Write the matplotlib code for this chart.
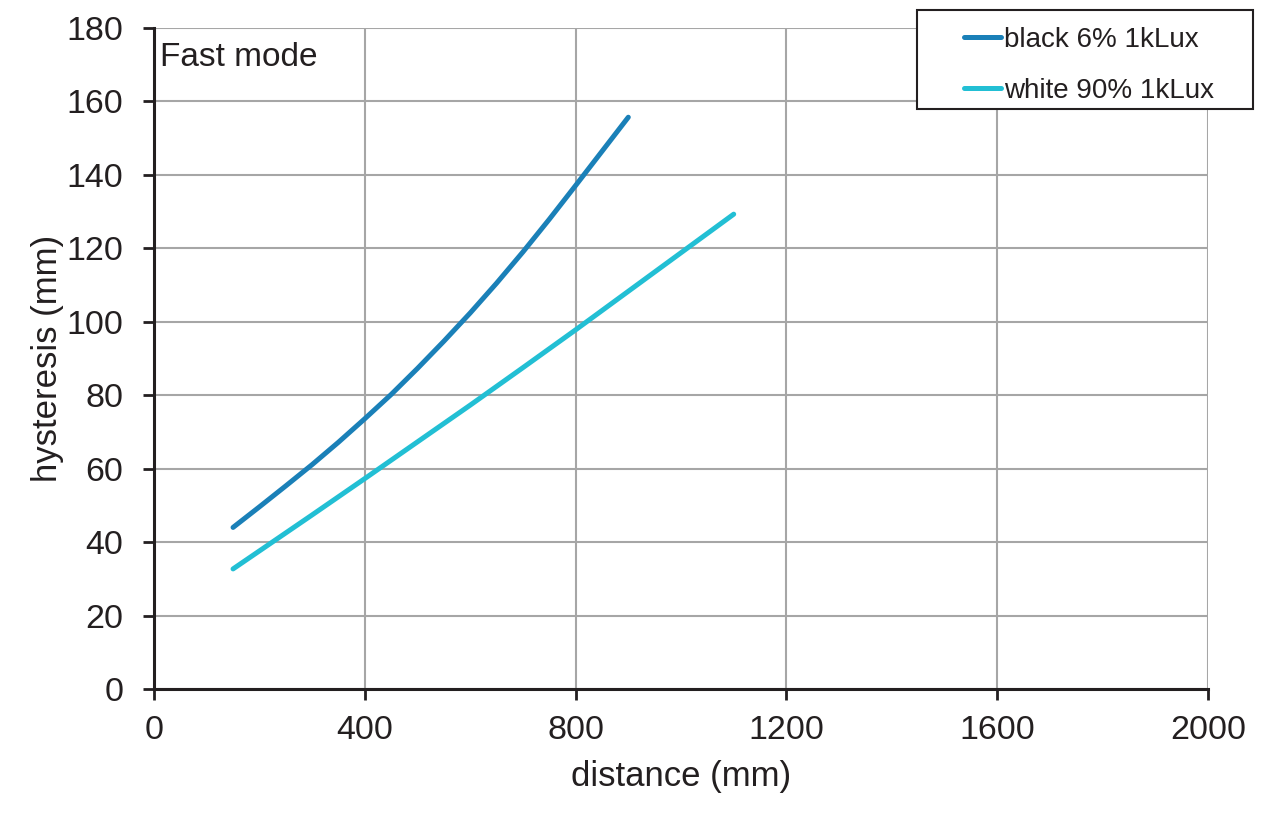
import matplotlib
matplotlib.use("Agg")
import matplotlib.pyplot as plt
from matplotlib.patches import Rectangle

plt.rcParams["font.family"] = ["Liberation Sans", "DejaVu Sans"]

# values
black_x = [150, 200, 250, 300, 350, 400, 450, 500, 550, 600, 650, 700, 750, 800, 850, 900]
black_y = [44.0, 49.6, 55.3, 61.1, 67.2, 73.6, 80.2, 87.3, 94.7, 102.4, 110.5, 119.0,
           127.9, 137.1, 146.4, 155.7]
white_x = [150, 200, 300, 400, 500, 600, 700, 800, 900, 1000, 1100]
white_y = [32.7, 37.6, 47.4, 57.3, 67.3, 77.3, 87.5, 97.8, 108.3, 118.8, 129.3]

x_ticks = [0, 400, 800, 1200, 1600, 2000]
y_ticks = [0, 20, 40, 60, 80, 100, 120, 140, 160, 180]

c_black = "#1a80b8"
c_white = "#22bfd4"
c_text = "#231f20"

W, H = 1280, 832
fig = plt.figure(figsize=(12.8, 8.32), dpi=100)
ax = fig.add_axes([154 / W, 1 - 689 / H, (1208 - 154) / W, (689 - 28) / H])

ax.plot(black_x, black_y, color=c_black, lw=3.6, solid_capstyle="round",
        solid_joinstyle="round", label="black 6% 1kLux", zorder=3)
ax.plot(white_x, white_y, color=c_white, lw=3.6, solid_capstyle="round",
        solid_joinstyle="round", label="white 90% 1kLux", zorder=3)

ax.set_xlim(0, 2000)
ax.set_ylim(0, 180)
ax.set_xticks(x_ticks)
ax.set_yticks(y_ticks)
ax.grid(True, color="#a6a6a6", lw=1.5)
ax.set_axisbelow(True)
for s in ["top", "right"]:
    ax.spines[s].set_visible(False)
for s in ["left", "bottom"]:
    ax.spines[s].set_linewidth(2.2)
    ax.spines[s].set_color(c_text)
ax.tick_params(direction="out", length=8, width=2, labelsize=24.5, colors=c_text)
ax.tick_params(axis="y", pad=14)
ax.tick_params(axis="x", pad=11)

ax.set_xlabel("distance (mm)", fontsize=25, color=c_text, labelpad=10)
ax.set_ylabel("hysteresis (mm)", fontsize=25, color=c_text, labelpad=2)

ax.text(6 / 1054, 1 - 14 / 661, "Fast mode", transform=ax.transAxes, fontsize=24,
        va="top", ha="left", color=c_text,
        bbox=dict(facecolor="white", edgecolor="none", pad=1))

# legend box sits above the plot's top right corner
fig.patches.append(Rectangle((917 / W, 1 - 109 / H), (1253 - 917) / W, 99 / H,
                             transform=fig.transFigure, facecolor="white",
                             edgecolor=c_text, lw=1.5, zorder=5))
leg = fig.legend(loc="upper left", bbox_to_anchor=(950 / W, 1 - 13 / H),
                 fontsize=20, frameon=False, handlelength=1.35,
                 handletextpad=0.1, labelspacing=0.9, borderpad=0.5,
                 borderaxespad=0)
leg.set_zorder(6)
for t in leg.get_texts():
    t.set_color(c_text)

fig.savefig("out.png", dpi=100)
